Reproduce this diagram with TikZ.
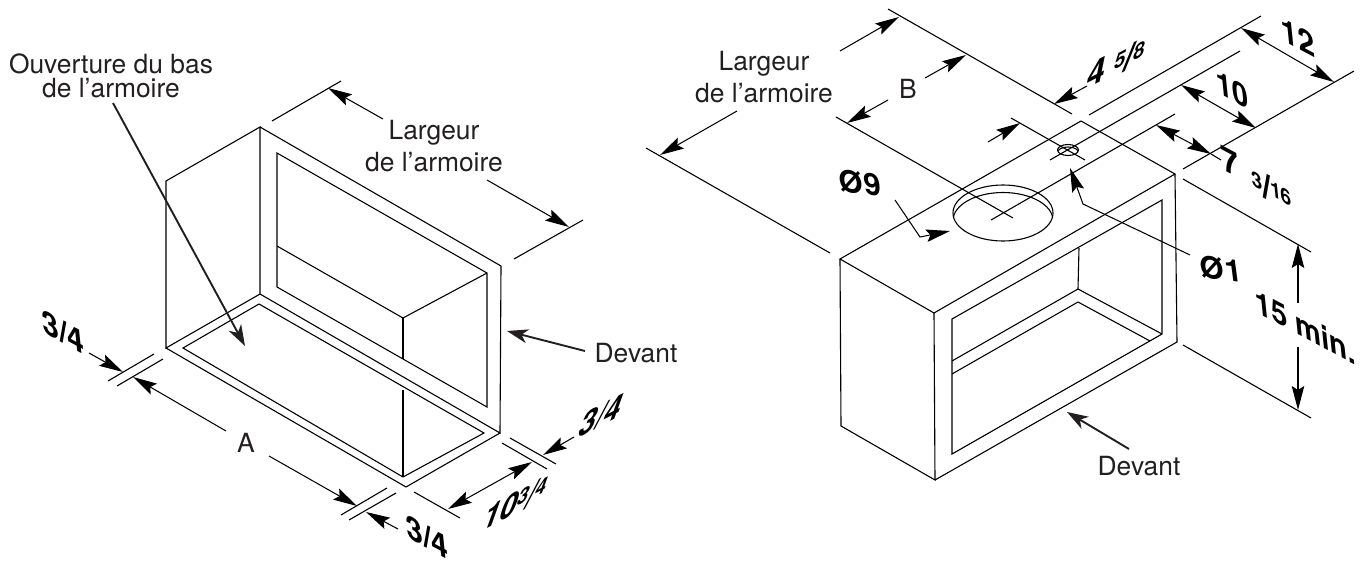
\documentclass[tikz,border=0pt]{standalone}
\usepackage{fontspec}
\setmainfont{TeX Gyre Heros}
\usetikzlibrary{arrows.meta}
\definecolor{ink}{HTML}{231F20}
\newcommand{\fs}[1]{\fontsize{#1}{#1}\selectfont}
\newcommand{\tallfrac}[5]{{\fs{#3}\raisebox{#5}{#1}}\kern-1pt{\fs{#4}/}\kern-1pt{\fs{#3}\raisebox{#5}{#2}}}
\tikzset{
  tipd/.tip={Stealth[length=24pt,width=12.5pt,inset=4pt]},
  edge/.style={line width=1.1pt,black,line join=miter},
  dimline/.style={line width=1.05pt,black,-tipd},
  dimboth/.style={line width=1.05pt,black,tipd-tipd},
  callout/.style={line width=1.9pt,ink,-{Stealth[length=21pt,width=14pt,inset=6pt]}},
  label/.style={font=\fs{26.4},text=ink,anchor=base,inner sep=0pt},
  dimtext/.style={font=\fs{#1}\bfseries,text=black,inner sep=0pt},
  dimtext/.default=33,
  isodown/.style={cm={.88,-.47,-.1,.98,(0,0)}},
  isoup/.style={cm={.88,.45,.2,.98,(0,0)}},
  flatdown/.style={cm={.99,-.13,-.13,.99,(0,0)}}
}
\begin{document}
\begin{tikzpicture}[x=1pt,y=-1pt]
\useasboundingbox (0,0) rectangle (1369,562);
% ---- left cabinet ----
\draw[edge] (260,294) -- (260,127) -- (166,181) -- (166,348) -- (260,294) -- (500,433) -- (501,266) -- (260,127);
\draw[edge] (166,348) -- (406,487) -- (500,433);
\draw[edge] (183,348) -- (259,304) -- (484,433) -- (403,477) -- cycle;
\draw[edge] (277,246) -- (277,153) -- (487,273) -- (487,407) -- (277,287) -- (277,246) -- (403,318) -- (487,273);
\draw[edge] (403,318) -- (403,359);
\draw[edge] (403,390) -- (403,477);
% left dimensions
\draw[edge] (272,121) -- (341,81);
\draw[edge] (514,259) -- (583,220);
\draw[edge] (108,381) -- (154,354);
\draw[edge] (117,386) -- (163,359);
\draw[edge] (341,515) -- (387,488);
\draw[edge] (349,520) -- (396,493);
\draw[edge] (414,492) -- (460,518);
\draw[edge] (502,443) -- (547,469);
\draw[edge] (510,438) -- (556,464);
\draw[dimline] (383,119) -- (328,88);
\draw[dimline] (487,180) -- (569,227);
\draw[dimline] (89,353) -- (123,372);
\draw[dimline] (226,431) -- (133,377);
\draw[dimline] (269,456) -- (357,506);
\draw[dimline] (398,529) -- (366,512);
\draw[dimboth] (448,509) -- (532,462);
\draw[dimline] (574,437) -- (543,455);
\draw[callout] (113,103) -- (245,346);
\draw[callout] (585,351) -- (507,331);
\node[label] (ouv1) at (111,73) {Ouverture du bas};
\node[label] (ouv2) at (111,97) {de l’armoire};
\node[label] (lar1) at (434,139) {Largeur};
\node[label] (lar2) at (434,171) {de l’armoire};
\node[label] (dev1) at (636,362) {Devant};
\node[label] (dima) at (246,452) {A};
\node[dimtext=34,isodown] (t34a) at (63,332) {3/4};
\node[dimtext=34,isodown] (t34b) at (427,537) {3/4};
\node[dimtext=34,isoup] (t34c) at (601,416) {\itshape 3/4};
\node[dimtext=34,isoup] (t1034) at (515,503) {\itshape 10\tallfrac{3}{4}{22}{36}{8pt}};
% ---- right cabinet ----
\draw[edge] (840,259) -- (1081,121) -- (1175,174) -- (934,313) -- cycle;
\draw[edge] (840,259) -- (841,426) -- (935,480) -- (934,313);
\draw[edge] (935,480) -- (1177,342) -- (1175,174);
\draw[edge] (952,454) -- (952,319) -- (1162,200) -- (1162,334) -- cycle;
\draw[edge] (1079,248) -- (1078,289) -- (952,361);
\draw[edge] (1078,289) -- (1162,334);
\draw[edge] (952,374) -- (1078,302) -- (1150,341);
% holes
\draw[edge] (1003,213) ellipse [x radius=50,y radius=28];
\begin{scope}
\clip (1003,213) ellipse [x radius=50,y radius=28];
\draw[edge] (1003,220.5) ellipse [x radius=50,y radius=28];
\end{scope}
\draw[edge] (1068,150) ellipse [x radius=10.5,y radius=5.5];
\begin{scope}
\clip (1068,150) ellipse [x radius=10.5,y radius=5.5];
\draw[edge] (1068,152.5) ellipse [x radius=10.5,y radius=5.5];
\end{scope}
% right extension lines
\draw[edge] (888,9) -- (1072,114);
\draw[edge] (836,117) -- (1013,218);
\draw[edge] (991,220) -- (1175,114);
\draw[edge] (1011,118) -- (1085,160);
\draw[edge] (1050,160) -- (1240,51);
\draw[edge] (1089,115) -- (1261,16);
\draw[edge] (1183,169) -- (1354,71);
\draw[edge] (646,148) -- (830,253);
\draw[edge] (1183,179) -- (1311,252);
\draw[edge] (1183,345) -- (1311,418);
% right dimensions
\draw[dimline] (840,51) -- (899,17);
\draw[dimline] (925,78) -- (966,55);
\draw[dimline] (888,100) -- (847,123);
\draw[dimline] (737,111) -- (660,155);
\draw[dimline] (1087,86) -- (1054,104);
\draw[dimline] (988,142) -- (1020,123);
\draw[dimboth] (1241,28) -- (1334,82);
\draw[dimboth] (1181,85) -- (1256,128);
\draw[dimboth] (1156,125) -- (1211,154);
\draw[edge] (1211,154) -- (1221,160);
\draw[dimline] (1298,303) -- (1298,244);
\draw[dimline] (1298,347) -- (1298,410);
\draw[dimline] (895,200) -- (920,237) -- (950,231);
\draw[dimline] (1190,255) -- (1083,204) -- (1070,168);
\draw[callout] (1129,449) -- (1067,412);
\node[label] (lar3) at (764,70) {Largeur};
\node[label] (lar4) at (764,102) {de l’armoire};
\node[label] (dimb) at (908,98) {B};
\node[label] (dev2) at (1139,475) {Devant};
\node[dimtext=31,flatdown] (d9) at (860,183) {Ø\kern2pt 9};
\node[dimtext=31,flatdown] (d1) at (1221,269) {Ø\kern2pt 1};
\node[dimtext=33,isodown] (t15) at (1305,327) {15 min.};
\node[dimtext=34,isodown] (t12) at (1298,37) {12};
\node[dimtext=33,isodown] (t10) at (1232,90) {10};
\node[dimtext=36,isodown] (t7) at (1230,162) {7};
\node[dimtext=33,isodown] (t316) at (1272,190) {\tallfrac{3}{16}{22}{38}{7pt}};
\node[dimtext=37,isoup] (t4) at (1097,72) {4};
\node[dimtext=33,isoup] (t58) at (1130,57) {\tallfrac{5}{8}{23}{38}{7pt}};
\end{tikzpicture}
\end{document}
